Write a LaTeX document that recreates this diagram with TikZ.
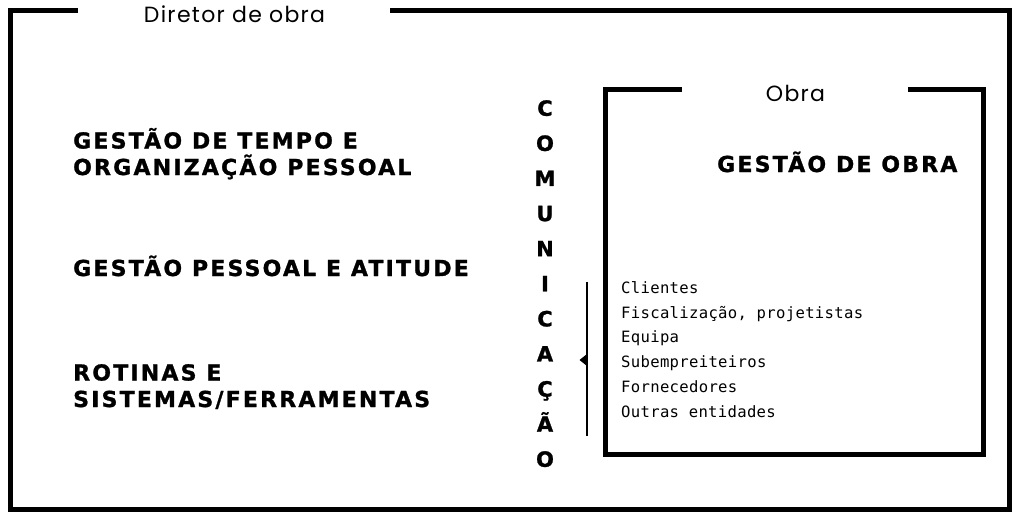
\documentclass[tikz,border=0pt]{standalone}
\usepackage{fontspec}
\setmainfont{Poppins}
\newfontfamily\headfont[LetterSpace=10,BoldFeatures={FakeBold=1.2}]{DejaVu Sans}
\newfontfamily\vertfont[BoldFeatures={FakeBold=1.2}]{DejaVu Sans}
\newfontfamily\monofont[LetterSpace=2]{DejaVu Sans Mono}
\newfontfamily\labfont[LetterSpace=6]{Poppins}
\begin{document}
\begin{tikzpicture}[x=1pt,y=-1pt,
  frame/.style={line width=5pt,line join=miter},
  inframe/.style={line width=4.5pt,line join=miter},
  head/.style={font=\headfont\bfseries\fontsize{22}{26.5}\selectfont,anchor=base west,inner sep=0pt,align=left},
  lab/.style={font=\labfont\fontsize{22}{24}\selectfont,anchor=base,inner sep=0pt},
  item/.style={font=\monofont\fontsize{15.6}{24.7}\selectfont,anchor=base west,inner sep=0pt,align=left},
  vert/.style={font=\vertfont\bfseries\fontsize{21}{35.1}\selectfont,anchor=north,inner sep=0pt,align=center}]
\useasboundingbox (0,0) rectangle (1024,524);
\fill[white] (0,0) rectangle (1024,524);
% outer frame
\coordinate (o1) at (78,10.5);
\coordinate (o2) at (390,10.5);
\draw[frame] (o1) -- (10.5,10.5) -- (10.5,509) -- (1009,509) -- (1009,10.5) -- (o2);
\node[lab] (dir) at (234.5,23) {Diretor de obra};
% inner frame
\coordinate (i1) at (682,89.5);
\coordinate (i2) at (908,89.5);
\draw[inframe] (i1) -- (605.5,89.5) -- (605.5,454.5) -- (983.5,454.5) -- (983.5,89.5) -- (i2);
\node[lab] (obra) at (795.5,102) {Obra};
% left headings (base = last line)
\node[head] (h1) at (73,175) {GESTÃO DE TEMPO E\\ORGANIZAÇÃO PESSOAL};
\node[head] (h2) at (73,276) {GESTÃO PESSOAL E ATITUDE};
\node[head] (h3) at (73,407) {ROTINAS E\\SISTEMAS/FERRAMENTAS};
% right heading
\node[head] (h4) at (717,172) {GESTÃO DE OBRA};
% vertical word
\node[vert] (com) at (545,100) {C\\O\\M\\U\\N\\I\\C\\A\\Ç\\Ã\\O};
% list
\node[item] (list) at (621,417) {Clientes\\Fiscalização, projetistas\\Equipa\\Subempreiteiros\\Fornecedores\\Outras entidades};
% bracket
\coordinate (b1) at (587,282);
\coordinate (b2) at (587,436);
\coordinate (bt) at (579.5,360);
\draw[line width=2.5pt] (b1) -- (b2);
\fill (587,354) -- (bt) -- (587,366) -- cycle;
\end{tikzpicture}
\end{document}
